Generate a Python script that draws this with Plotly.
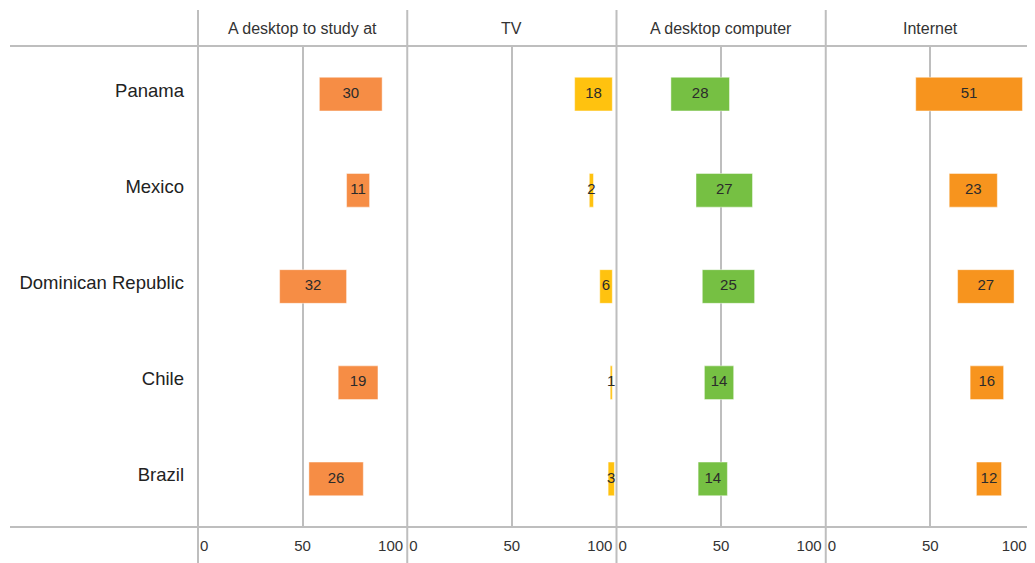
import plotly.graph_objects as go
from plotly.subplots import make_subplots

# data
countries = ["Panama", "Mexico", "Dominican Republic", "Chile", "Brazil"]
panels = ["A desktop to study at", "TV", "A desktop computer", "Internet"]

# start of each bar and its length (the number printed inside)
desk_start = [58, 71, 39, 67, 53]
desk_len = [30, 11, 32, 19, 26]
tv_start = [80, 87, 92, 97, 96]
tv_len = [18, 2, 6, 1, 3]
comp_start = [26, 38, 41, 42, 39]
comp_len = [28, 27, 25, 14, 14]
net_start = [43, 59, 63, 69, 72]
net_len = [51, 23, 27, 16, 12]

tick_vals = [0, 50, 100]
tick_labels = ["0", "50", "100"]

starts = [desk_start, tv_start, comp_start, net_start]
lengths = [desk_len, tv_len, comp_len, net_len]
colors = ["#F68D45", "#FFC20F", "#76C043", "#F7941E"]

# the page body has an 8px margin, so the figure is drawn 8px smaller
OFF = 8
W, H = 1035 - OFF, 563 - OFF
L, R, T, B = 198 - OFF, 0, 46 - OFF, 36
pw = W - L - R
ph = H - T - B
GRID = "#BEBEBE"
FONT = "Liberation Sans, Arial, sans-serif"
NB = "\u00a0"


def px_x(p):
    return (p - OFF - L) / pw


def px_y(p):
    return (H - B - (p - OFF)) / ph


fig = make_subplots(rows=1, cols=4, shared_yaxes=True, horizontal_spacing=0)

for i in range(4):
    fig.add_trace(go.Bar(
        y=countries, x=lengths[i], base=starts[i], orientation="h",
        marker=dict(color=colors[i], line=dict(color="rgba(255,255,255,0.45)", width=1)),
        width=0.35, hoverinfo="skip", showlegend=False,
    ), row=1, col=i + 1)
    mids = [s + l / 2 for s, l in zip(starts[i], lengths[i])]
    fig.add_trace(go.Scatter(
        y=countries, x=mids, mode="text", text=[str(v) for v in lengths[i]],
        textfont=dict(size=15, color="#2b2b2b", family=FONT),
        hoverinfo="skip", showlegend=False,
    ), row=1, col=i + 1)
    # pad the end labels so "0" sits right of the divider and "100" left of it
    pad_end = 10 if i == 3 else 8
    ticktext = [NB * 3 + tick_labels[0], tick_labels[1], tick_labels[2] + NB * pad_end]
    fig.update_xaxes(
        range=[0, 100], tickvals=tick_vals, ticktext=ticktext,
        showgrid=True, gridcolor=GRID, gridwidth=1.5, zeroline=False,
        ticks="outside", ticklen=5, tickcolor="rgba(0,0,0,0)",
        tickfont=dict(size=15, color="#333333", family=FONT),
        ticklabeloverflow="allow",
        automargin=False, fixedrange=True, row=1, col=i + 1)
    fig.add_annotation(
        text=panels[i], xref=f"x{i + 1 if i else ''} domain", x=0.5,
        yref="paper", y=px_y(28), yanchor="middle", showarrow=False,
        font=dict(size=16, color="#333333", family=FONT))

fig.update_yaxes(
    autorange="reversed", showgrid=False, zeroline=False, automargin=False,
    ticklabelstandoff=13, ticklabelshift=4,
    tickfont=dict(size=18.5, color="#222222", family=FONT))

# frame lines: header rule, bottom rule, panel separators
line = dict(color=GRID, width=2)
for yy in (46, 527):
    fig.add_shape(type="line", xref="paper", yref="paper",
                  x0=px_x(10), x1=px_x(1035), y0=px_y(yy), y1=px_y(yy), line=line)
for k in range(4):
    fig.add_shape(type="line", xref="paper", yref="paper",
                  x0=k / 4, x1=k / 4, y0=px_y(10), y1=px_y(563), line=line)

fig.update_layout(
    width=W, height=H, margin=dict(l=L, r=R, t=T, b=B),
    plot_bgcolor="white", paper_bgcolor="white",
    bargap=0.65, font=dict(family=FONT),
)

fig.write_html("out.html")
